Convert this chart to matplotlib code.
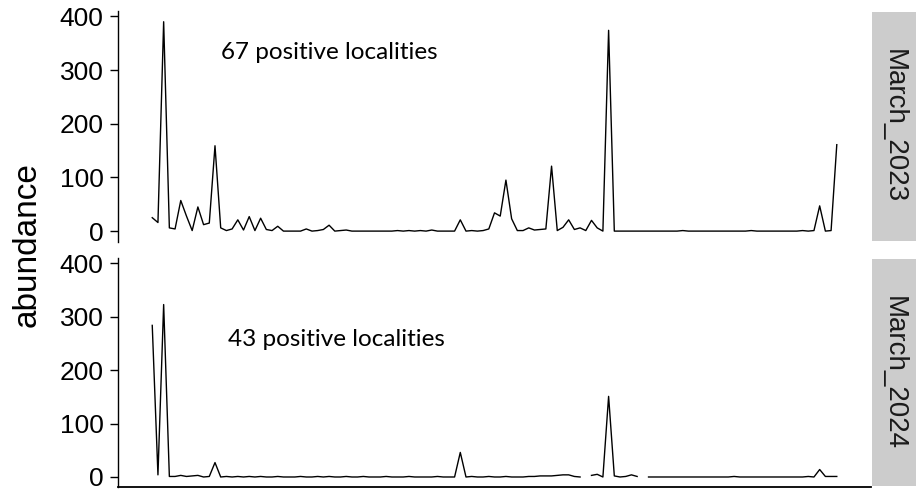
import numpy as np
import matplotlib.pyplot as plt

nan = np.nan
# abundance per locality
march_2023 = [25, 16, 390, 6, 4, 57, 28, 1, 45, 12,
              15, 159, 6, 1, 4, 21, 2, 27, 1, 24,
              3, 1, 9, 0, 0, 0, 0, 4, 0, 1,
              3, 11, 0, 1, 2, 0, 0, 0, 0, 0,
              0, 0, 0, 1, 0, 1, 0, 1, 0, 2,
              0, 0, 0, 0, 21, 0, 1, 0, 1, 4,
              34, 28, 95, 23, 1, 1, 6, 2, 3, 4,
              121, 1, 7, 21, 3, 6, 1, 20, 6, 0,
              374, 0, 0, 0, 0, 0, 0, 0, 0, 0,
              0, 0, 0, 1, 0, 0, 0, 0, 0, 0,
              0, 0, 0, 0, 0, 1, 0, 0, 0, 0,
              0, 0, 0, 0, 1, 0, 1, 47, 0, 1,
              161]
march_2024 = [284, 4, 323, 1, 1, 3, 1, 2, 3, 0,
              1, 27, 0, 1, 0, 1, 0, 1, 0, 1,
              0, 0, 1, 0, 0, 0, 1, 0, 0, 1,
              0, 1, 0, 0, 1, 0, 0, 1, 0, 0,
              0, 1, 0, 0, 0, 1, 0, 0, 0, 0,
              1, 0, 0, 0, 46, 0, 1, 0, 0, 1,
              0, 0, 1, 0, 0, 0, 1, 1, 2, 2,
              2, 3, 4, 4, 1, 0, nan, 3, 5, 0,
              151, 2, 0, 1, 4, 1, nan, 0, 0, 0,
              0, 0, 0, 0, 0, 0, 0, 0, 0, 0,
              0, 0, 1, 0, 0, 0, 0, 0, 0, 0,
              0, 0, 0, 0, 0, 1, 0, 14, 1, 1,
              1]
panels = ["March_2023", "March_2024"]
notes = ["67 positive localities", "43 positive localities"]
yticks = [0, 100, 200, 300, 400]

series = [np.array(march_2023, float), np.array(march_2024, float)]
x = np.arange(1, len(march_2023) + 1)
ymax = np.nanmax(np.concatenate(series))
xspan = x[-1] - x[0]

plt.rcParams['font.family'] = ['Liberation Sans', 'DejaVu Sans']
fig = plt.figure(figsize=(9.22, 4.90), dpi=100)

boxes = [(0.977, 0.507), (0.4727, 0.0053)]
left, right = 0.128, 0.9447
for i, (top, bot) in enumerate(boxes):
    ax = fig.add_axes([left, bot, right - left, top - bot])
    ax.plot(x, series[i], color='black', lw=1.0)
    ax.set_xlim(x[0] - 0.05 * xspan, x[-1] + 0.05 * xspan)
    ax.set_ylim(-0.05 * ymax, 1.05 * ymax)
    ax.set_yticks(yticks)
    ax.tick_params(axis='y', length=5.5, width=1.0, pad=5, labelsize=19, colors='black')
    ax.set_xticks([])
    for s in ['top', 'right']:
        ax.spines[s].set_visible(False)
    ax.spines['left'].set_linewidth(1.0)
    if i == 0:
        ax.spines['bottom'].set_visible(False)
    else:
        ax.spines['bottom'].set_linewidth(1.3)
    ax.text(0.137 if i == 0 else 0.146, 0.82 if i == 0 else 0.645, notes[i],
            transform=ax.transAxes, fontsize=17.5, family=['Lato', 'DejaVu Sans'],
            va='center', ha='left', color='black')
    # facet strip
    sax = fig.add_axes([0.9458, bot + 0.002, 0.0477, top - bot - 0.004])
    sax.set_facecolor('#cccccc')
    sax.set_xticks([])
    sax.set_yticks([])
    for s in sax.spines.values():
        s.set_visible(False)
    sax.text(0.5, 0.5, panels[i], rotation=270, ha='center', va='center',
             fontsize=20, color='#1a1a1a', family=['Liberation Sans'],
             transform=sax.transAxes)

fig.text(27 / 922, 0.5, 'abundance', rotation=90, ha='center', va='center', fontsize=24)

fig.savefig('out.png', dpi=100)
